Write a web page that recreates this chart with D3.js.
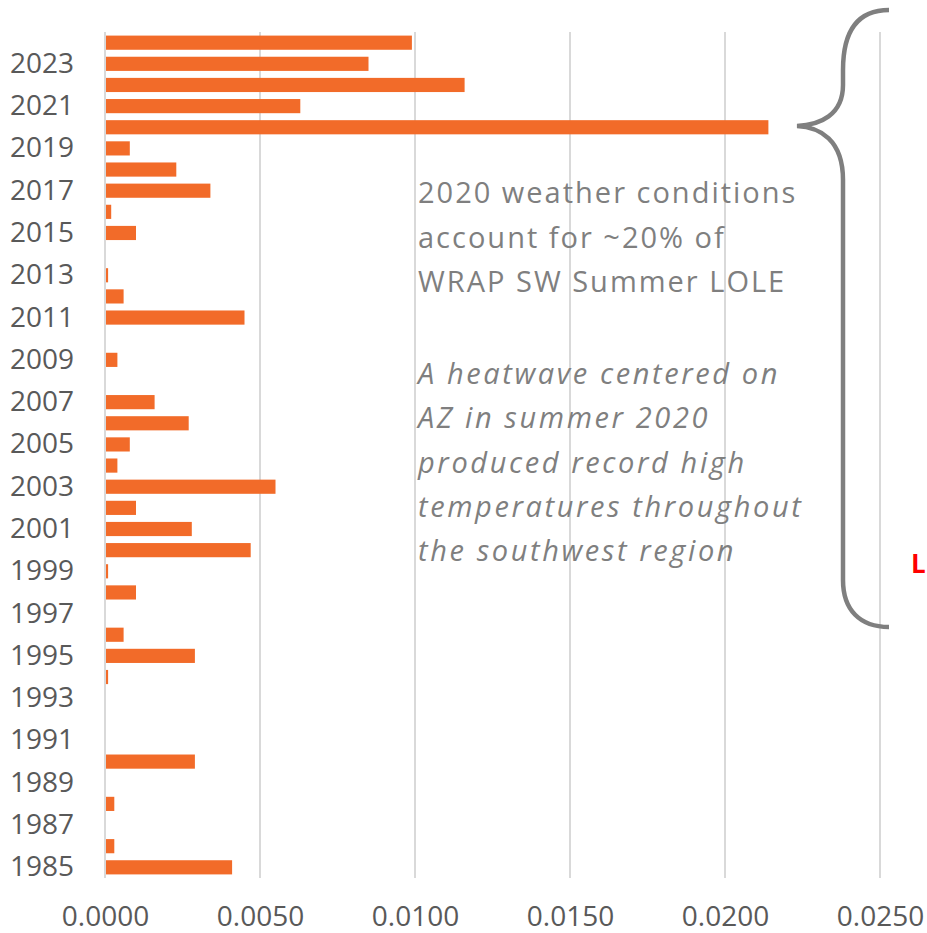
<!DOCTYPE html>
<html>
<head>
<meta charset="utf-8">
<script src="https://cdn.jsdelivr.net/npm/d3@7"></script>
<style>
  html, body { margin: 0; padding: 0; background: #fff; overflow: hidden; }
  svg { display: block; font-family: "Open Sans", "Noto Sans", sans-serif; }
</style>
</head>
<body>
<div id="chart"></div>
<script>
// years, top of chart is the latest
var years = d3.range(2024, 1984, -1);
var lole = [
  0.0099, 0.0085, 0.0116, 0.0063, 0.0214, 0.0008, 0.0023, 0.0034, 0.0002, 0.0010,
  0.0000, 0.0001, 0.0006, 0.0045, 0.0000, 0.0004, 0.0000, 0.0016, 0.0027, 0.0008,
  0.0004, 0.0055, 0.0010, 0.0028, 0.0047, 0.0001, 0.0010, 0.0000, 0.0006, 0.0029,
  0.0001, 0.0000, 0.0000, 0.0000, 0.0029, 0.0000, 0.0003, 0.0000, 0.0003, 0.0041
];
var xTicks = [0, 0.005, 0.01, 0.015, 0.02, 0.025];
var noteLines = ["2020 weather conditions", "account for ~20% of", "WRAP SW Summer LOLE"];
var italicLines = ["A heatwave centered on", "AZ in summer 2020", "produced record high",
                   "temperatures throughout", "the southwest region"];

var data = years.map(function(y, i){ return {year: y, value: lole[i]}; });

var width = 927, height = 933;
var svg = d3.select("#chart").append("svg")
  .attr("width", width)
  .attr("height", height);

var x = d3.scaleLinear().domain([0, 0.025]).range([105, 880]);
var y = d3.scaleBand().domain(years).range([32, 878])
  .paddingInner(0.33).paddingOuter(0.17);

// gridlines
svg.append("g").selectAll("line")
  .data(xTicks)
  .enter().append("line")
  .attr("x1", function(d){ return x(d); })
  .attr("x2", function(d){ return x(d); })
  .attr("y1", 32)
  .attr("y2", 878)
  .attr("stroke", "#d9d9d9")
  .attr("stroke-width", 2);

// bars
svg.append("g").selectAll("rect")
  .data(data)
  .enter().append("rect")
  .attr("x", x(0) + 1)
  .attr("y", function(d){ return y(d.year); })
  .attr("width", function(d){ return Math.max(0, x(d.value) - x(0) - 1); })
  .attr("height", y.bandwidth())
  .attr("fill", "#f26b29");

// y labels (odd years only)
var yAxis = d3.axisLeft(y)
  .tickValues(years.filter(function(d){ return d % 2 === 1; }))
  .tickSize(0)
  .tickPadding(0);
var gy = svg.append("g").attr("transform", "translate(74,0)").call(yAxis);
gy.select(".domain").remove();
gy.selectAll("text")
  .attr("fill", "#595959")
  .style("font-size", "28px")
  .style("font-family", "'Open Sans', sans-serif");

// x labels
var xAxis = d3.axisBottom(x)
  .tickValues(xTicks)
  .tickFormat(d3.format(".4f"))
  .tickSize(0)
  .tickPadding(0);
var gx = svg.append("g").attr("transform", "translate(0,878)").call(xAxis);
gx.select(".domain").remove();
gx.selectAll("text")
  .attr("y", 48)
  .attr("dy", 0)
  .attr("fill", "#595959")
  .style("font-size", "28px")
  .style("font-family", "'Open Sans', sans-serif");

// annotation
var note = svg.append("g").attr("fill", "#7f7f7f")
  .style("font-size", "29px");
note.selectAll("text.plain")
  .data(noteLines)
  .enter().append("text")
  .attr("class", "plain")
  .attr("x", 418)
  .attr("y", function(d, i){ return 203 + i * 44.5; })
  .style("letter-spacing", "2px")
  .text(function(d){ return d; });
note.selectAll("text.ital")
  .data(italicLines)
  .enter().append("text")
  .attr("class", "ital")
  .attr("x", 418)
  .attr("y", function(d, i){ return 384 + i * 44.3; })
  .style("font-style", "italic")
  .style("letter-spacing", "2.6px")
  .text(function(d){ return d; });

// curly brace
var brace = d3.path();
brace.moveTo(889, 10);
brace.bezierCurveTo(855, 10, 843, 35, 843, 70);
brace.lineTo(843, 85);
brace.bezierCurveTo(843, 115, 820, 125, 797, 126);
brace.bezierCurveTo(820, 127, 843, 140, 843, 180);
brace.lineTo(843, 580);
brace.bezierCurveTo(843, 610, 860, 627, 889, 627);
svg.append("path")
  .attr("d", brace.toString())
  .attr("fill", "none")
  .attr("stroke", "#7f7f7f")
  .attr("stroke-width", 4.5);

svg.append("text")
  .attr("x", 911)
  .attr("y", 573)
  .attr("fill", "#ff0000")
  .style("font-weight", "bold")
  .style("font-size", "26px")
  .text("L");
</script>
</body>
</html>
